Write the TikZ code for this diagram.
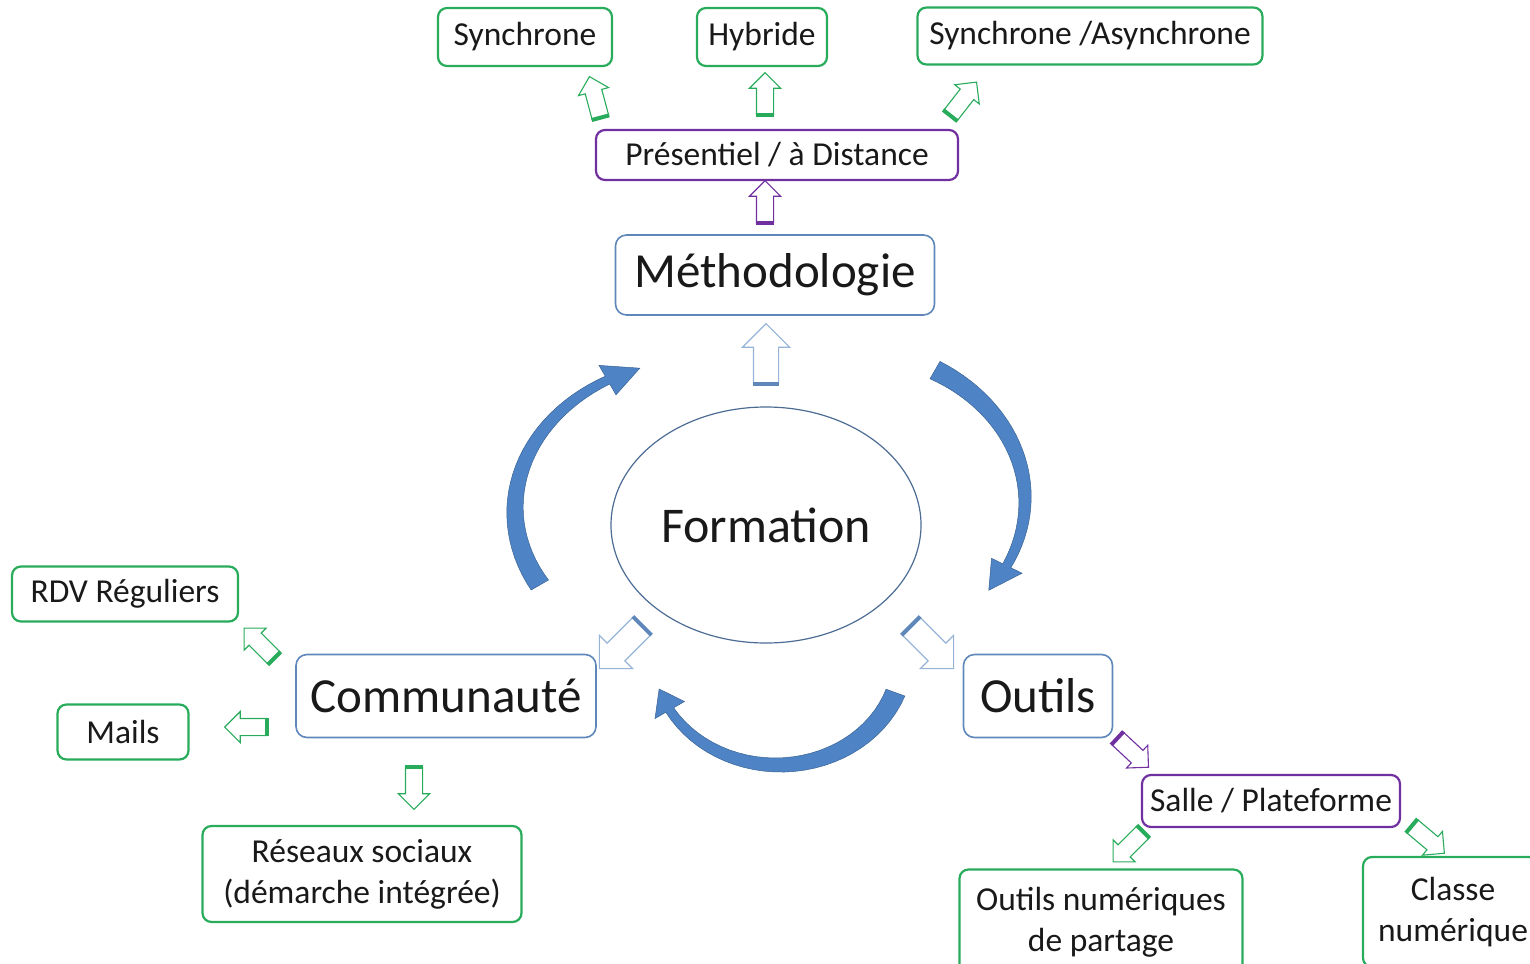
\documentclass[tikz,border=0pt]{standalone}
\usepackage{fontspec}
\setmainfont{Carlito}
\usetikzlibrary{shapes.geometric, shapes.arrows}

\definecolor{boxgreen}{RGB}{40,172,92}
\definecolor{boxpurple}{RGB}{112,48,160}
\definecolor{boxblue}{RGB}{95,135,185}
\definecolor{lightarrow}{RGB}{150,180,215}
\definecolor{curveblue}{RGB}{78,132,198}
\definecolor{textgrey}{RGB}{25,25,25}

\begin{document}
\begin{tikzpicture}[x=1pt, y=-1pt,
    smallbox/.style={draw=#1, line width=2.2pt, rounded corners=9pt, fill=white, text=textgrey,
        inner sep=0pt, font=\fontsize{33.5}{41}\selectfont},
    bigbox/.style={draw=boxblue, line width=1.6pt, rounded corners=11pt, fill=white, text=textgrey,
        inner sep=0pt, font=\fontsize{49}{58}\selectfont},
    blockarrow/.style 2 args={single arrow, draw=#1, fill=white, line width=1.1pt,
        inner xsep=0pt, inner ysep=8pt, single arrow head extend=7pt, minimum height=42pt,
        append after command={(\tikzlastnode.before tail) edge[draw=#2, line width=4pt] (\tikzlastnode.after tail)}},
    bigarrow/.style={blockarrow={lightarrow}{boxblue}, inner ysep=12pt, single arrow head extend=11pt, minimum height=60pt},
    curvearrow/.style={fill=curveblue, draw=curveblue!75!black, line width=0.5pt}]

    % Define the page area
    \useasboundingbox (0,0) rectangle (1530,963);

    % Centre of the diagram
    \node[ellipse, draw=boxblue!80!black, line width=1.2pt, minimum width=310pt, minimum height=236pt,
        text=textgrey, font=\fontsize{50}{58}\selectfont] (form) at (766,525) {Formation};

    % Loop to draw the curved arrows round the centre
    % centre x / centre y / radius x / radius y / tail angle / head angle / tip angle
    \foreach \cx/\cy/\rx/\ry/\a/\b/\c in {700/510/185/150/150/240/251,
            845/500/180/150/300/386/397, 778/655/125/110/20/150/162} {
        \filldraw[curvearrow]
            plot[domain=\a:\b, samples=30] ({\cx+(\rx+10-5.5*(\x-\a)/(\b-\a))*cos(\x)}, {\cy+(\ry+10-5.5*(\x-\a)/(\b-\a))*sin(\x)})
            -- ({\cx+(\rx+17)*cos(\b)}, {\cy+(\ry+17)*sin(\b)})
            -- ({\cx+\rx*cos(\c)}, {\cy+\ry*sin(\c)})
            -- ({\cx+(\rx-17)*cos(\b)}, {\cy+(\ry-17)*sin(\b)})
            -- plot[domain=\b:\a, samples=30] ({\cx+(\rx-10+5.5*(\x-\a)/(\b-\a))*cos(\x)}, {\cy+(\ry-10+5.5*(\x-\a)/(\b-\a))*sin(\x)})
            -- cycle;
    }

    % Main branches
    \node[bigbox, minimum width=319pt, minimum height=80pt] (meth) at (775,275) {Méthodologie};
    \node[bigbox, minimum width=300pt, minimum height=83pt] (comm) at (446,696) {Communauté};
    \node[bigbox, minimum width=149pt, minimum height=83pt] (outils) at (1038,696) {Outils};

    % Second level
    \node[smallbox=boxpurple, minimum width=362pt, minimum height=50pt] (pres) at (777,155) {Présentiel / à Distance};
    \node[smallbox=boxpurple, minimum width=258pt, minimum height=52pt] (salle) at (1271,801) {Salle / Plateforme};

    % Leaves
    \node[smallbox=boxgreen, minimum width=174pt, minimum height=58pt] (sync) at (525,37) {Synchrone};
    \node[smallbox=boxgreen, minimum width=130pt, minimum height=58pt] (hyb) at (762,37) {Hybride};
    \node[smallbox=boxgreen, minimum width=345pt, minimum height=57pt] (async) at (1090,36) {Synchrone /Asynchrone};
    \node[smallbox=boxgreen, minimum width=226pt, minimum height=55pt] (rdv) at (125,594) {RDV Réguliers};
    \node[smallbox=boxgreen, minimum width=131pt, minimum height=55pt] (mails) at (123,732) {Mails};
    \node[smallbox=boxgreen, minimum width=319pt, minimum height=96pt, align=center] (res) at (362,874) {Réseaux sociaux\\(démarche intégrée)};
    \node[smallbox=boxgreen, minimum width=283pt, minimum height=105pt, align=center] (outnum) at (1101,922) {Outils numériques\\de partage};
    \node[smallbox=boxgreen, minimum width=180pt, minimum height=110pt, align=center] (classe) at (1453,912) {Classe\\numérique};

    % Hollow arrows between the boxes
    \foreach \nm/\px/\py/\ang in {a-sync/596/101/105, a-hyb/765/98/90, a-async/961/102/52,
            a-rdv/262/646/135, a-mails/250/727/180, a-res/414/784/270,
            a-outnum/1131/844/225, a-classe/1425/837/-40}
        \node[blockarrow={boxgreen}{boxgreen}, rotate=\ang] (\nm) at (\px,\py) {};
    \foreach \nm/\px/\py/\ang in {a-pres/765/206/90, a-salle/1130/750/-43}
        \node[blockarrow={boxpurple}{boxpurple}, rotate=\ang] (\nm) at (\px,\py) {};
    \foreach \nm/\px/\py/\ang in {a-meth/766/360/90, a-comm/625/643/225, a-outils/928/643/-45}
        \node[bigarrow, rotate=\ang] (\nm) at (\px,\py) {};
\end{tikzpicture}
\end{document}
